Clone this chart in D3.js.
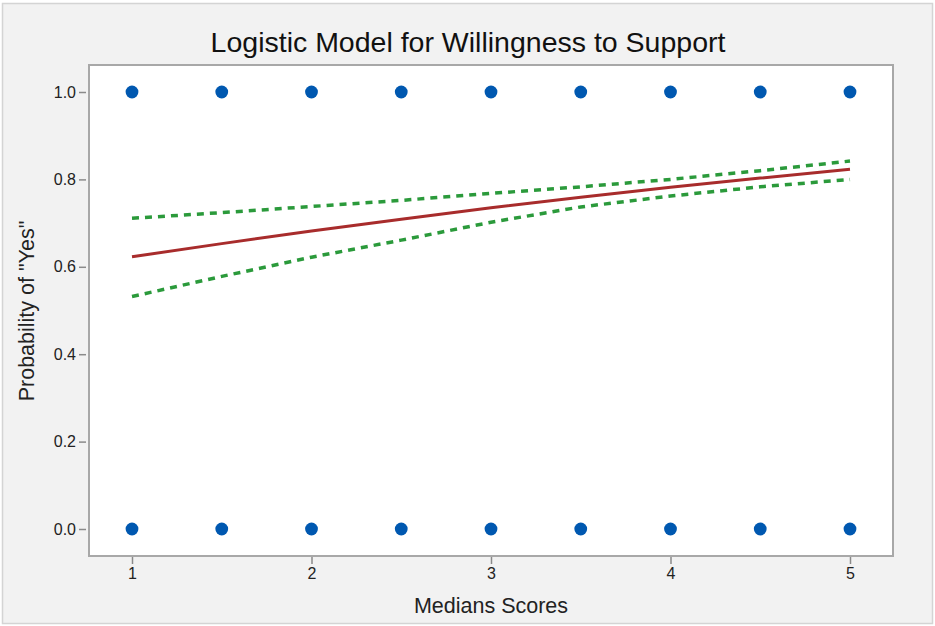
<!DOCTYPE html>
<html>
<head>
<meta charset="utf-8">
<script src="https://cdn.jsdelivr.net/npm/d3@7"></script>
<style>
  html, body { margin: 0; padding: 0; background: #ffffff; }
  svg { display: block; font-family: "Liberation Sans", Arial, Helvetica, sans-serif; }
</style>
</head>
<body>
<svg id="chart" width="935" height="626"></svg>
<script>
// Observed responses (median score vs. answer: 1 = "Yes", 0 = "No")
const obsX = [1, 1.5, 2, 2.5, 3, 3.5, 4, 4.5, 5, 1, 1.5, 2, 2.5, 3, 3.5, 4, 4.5, 5];
const obsY = [1, 1, 1, 1, 1, 1, 1, 1, 1, 0, 0, 0, 0, 0, 0, 0, 0, 0];

// Fitted probability curve and its confidence band
const fitX     = [1, 1.5, 2, 2.5, 3, 3.5, 4, 4.5, 5];
const fitProb  = [0.623, 0.653, 0.682, 0.709, 0.735, 0.759, 0.782, 0.803, 0.823];
const fitUpper = [0.711, 0.724, 0.738, 0.752, 0.768, 0.783, 0.800, 0.820, 0.842];
const fitLower = [0.532, 0.578, 0.622, 0.661, 0.702, 0.737, 0.762, 0.783, 0.800];

const xTicks = [1, 2, 3, 4, 5];
const yTicks = [0.0, 0.2, 0.4, 0.6, 0.8, 1.0];

const svg = d3.select("#chart");
const W = 935, H = 626;

// outer panel
svg.append("rect")
  .attr("x", 2.5).attr("y", 3.5).attr("width", W - 5).attr("height", H - 6)
  .attr("fill", "#f2f2f2").attr("stroke", "#d4d4d4").attr("stroke-width", 1.5);

const plot = { left: 89, top: 65, right: 893, bottom: 556 };

const x = d3.scaleLinear().domain([1, 5]).range([132, 850]);
const y = d3.scaleLinear().domain([0, 1]).range([529, 92]);

// plot area
svg.append("rect")
  .attr("x", plot.left).attr("y", plot.top)
  .attr("width", plot.right - plot.left).attr("height", plot.bottom - plot.top)
  .attr("fill", "#ffffff").attr("stroke", "#a8a8a8").attr("stroke-width", 2);

// axes
const xAxis = d3.axisBottom(x).tickValues(xTicks).tickFormat(d3.format("d"))
  .tickSize(7).tickPadding(4);
const yAxis = d3.axisLeft(y).tickValues(yTicks).tickFormat(d3.format(".1f"))
  .tickSize(7).tickPadding(3);

const gx = svg.append("g").attr("transform", `translate(0,${plot.bottom + 1})`).call(xAxis);
const gy = svg.append("g").attr("transform", `translate(${plot.left - 3},0)`).call(yAxis);
[gx, gy].forEach(g => {
  g.select(".domain").remove();
  g.selectAll(".tick line").attr("stroke", "#8a8a8a").attr("stroke-width", 1.5);
  g.selectAll(".tick text").attr("fill", "#222").style("font-size", "16px")
    .style("font-family", "'Liberation Sans', Arial, sans-serif");
});

// confidence band limits
const line = d3.line().x(d => x(d[0])).y(d => y(d[1]));
[fitUpper, fitLower].forEach(band => {
  svg.append("path")
    .datum(fitX.map((v, i) => [v, band[i]]))
    .attr("d", line)
    .attr("fill", "none")
    .attr("stroke", "#2b9a3b")
    .attr("stroke-width", 3.5)
    .attr("stroke-dasharray", "7,6");
});

// fitted curve
svg.append("path")
  .datum(fitX.map((v, i) => [v, fitProb[i]]))
  .attr("d", line)
  .attr("fill", "none")
  .attr("stroke", "#a82c2c")
  .attr("stroke-width", 3);

// observations
svg.append("g").selectAll("circle")
  .data(obsX.map((v, i) => [v, obsY[i]]))
  .join("circle")
  .attr("cx", d => x(d[0]))
  .attr("cy", d => y(d[1]))
  .attr("r", 6.4)
  .attr("fill", "#0058b0");

// titles
svg.append("text")
  .attr("x", 468).attr("y", 52)
  .attr("text-anchor", "middle")
  .style("font-size", "28.5px").attr("fill", "#111")
  .text("Logistic Model for Willingness to Support");

svg.append("text")
  .attr("x", 491).attr("y", 613)
  .attr("text-anchor", "middle")
  .style("font-size", "21.5px").attr("fill", "#222")
  .text("Medians Scores");

svg.append("text")
  .attr("transform", `translate(34,311) rotate(-90)`)
  .attr("text-anchor", "middle")
  .style("font-size", "21.5px").attr("fill", "#222")
  .text("Probability of \"Yes\"");
</script>
</body>
</html>
